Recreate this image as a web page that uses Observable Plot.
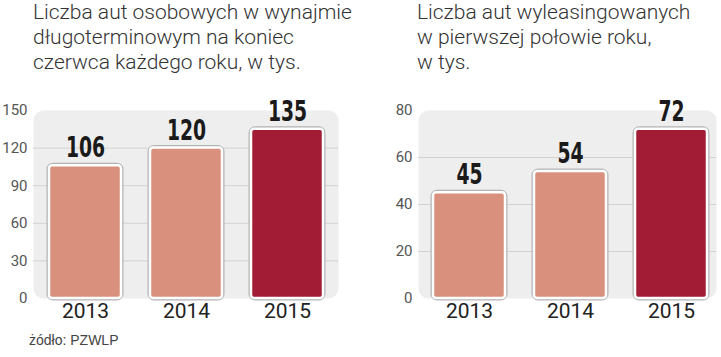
<!DOCTYPE html>
<html><head><meta charset="utf-8">
<script src="https://cdn.jsdelivr.net/npm/d3@7"></script>
<script src="https://cdn.jsdelivr.net/npm/@observablehq/plot@0.6"></script>
<style>
body{margin:0;background:#fff;}
#wrap{position:relative;width:721px;height:357px;overflow:hidden;}
.title{position:absolute;top:0;font-family:Roboto,sans-serif;font-weight:300;font-size:21px;line-height:25px;color:#333;margin:0;white-space:nowrap;}
.source{position:absolute;left:29px;top:332px;font-family:"Liberation Sans",Arial,sans-serif;font-size:14px;line-height:16px;color:#444;}
svg{position:absolute;top:0;}
</style>
</head><body>
<div id="wrap"></div>
<script>
const years = ["2013", "2014", "2015"];
const leftValues = [106, 120, 135];
const rightValues = [45, 54, 72];
const leftTicks = [0, 30, 60, 90, 120, 150];
const rightTicks = [0, 20, 40, 60, 80];
const leftGrid = [30, 60, 90, 120];
const rightGrid = [20, 40, 60];
const barColors = ["#d9917e", "#d9917e", "#a31c35"];
const leftTitle = ["Liczba aut osobowych w wynajmie", "długoterminowym na koniec", "czerwca każdego roku, w tys."];
const rightTitle = ["Liczba aut wyleasingowanych", "w pierwszej połowie roku,", "w tys."];
const sourceText = "żódło: PZWLP";

const wrap = document.getElementById("wrap");

function addTitle(lines, left) {
  const d = document.createElement("div");
  d.className = "title";
  d.style.left = left + "px";
  d.innerHTML = lines.map(l => l.replace(/&/g, "&amp;")).join("<br>");
  wrap.appendChild(d);
}

function panel({values, ticks, grid, max, width, marginLeft, marginRight, pi, po, align}) {
  const data = years.map((year, i) => ({year, value: values[i], color: barColors[i]}));
  const svg = Plot.plot({
    width, height: 330,
    marginTop: 110, marginBottom: 32, marginLeft, marginRight,
    style: {fontFamily: "Roboto, sans-serif", background: "transparent", overflow: "visible"},
    x: {domain: years, paddingInner: pi, paddingOuter: po, align, label: null},
    y: {domain: [0, max], label: null},
    color: {type: "identity"},
    marks: [
      Plot.frame({fill: "#eeeeee", stroke: "none", rx: 10}),
      Plot.gridY({ticks: grid, stroke: "#d2d2d2", strokeOpacity: 1}),
      Plot.barY(data, {x: "year", y: "value", fill: "color", stroke: "#b3b3b3", strokeWidth: 5, rx: 4}),
      Plot.barY(data, {x: "year", y: "value", fill: "color", stroke: "#ffffff", strokeWidth: 2.5, rx: 3}),
      Plot.text(data, {x: "year", y: "value", text: d => String(d.value), dy: -8.5, lineAnchor: "bottom",
        fontSize: 29, fontWeight: "bold", fontFamily: "'DejaVu Sans Condensed','DejaVu Sans',sans-serif", fill: "#1a1a1a"}),
      Plot.axisY({ticks, tickSize: 0, tickPadding: 6, fontSize: 15, fill: "#555", label: null}),
      Plot.axisX({tickSize: 0, tickPadding: 5, fontSize: 21, fill: "#222", label: null})
    ]
  });
  // narrow the bold value labels horizontally (condensed display face)
  d3.select(svg).selectAll('g[aria-label="text"] text').each(function () {
    const t = this.getAttribute("transform") || "";
    this.setAttribute("transform", t + " scale(0.72,1)");
  });
  return svg;
}

addTitle(leftTitle, 33);
addTitle(rightTitle, 417);

const left = panel({values: leftValues, ticks: leftTicks, grid: leftGrid, max: 150, width: 360,
  marginLeft: 33, marginRight: 22, pi: 0.29, po: 0.1475, align: 0.5});
left.style.left = "0px";
wrap.appendChild(left);

const right = panel({values: rightValues, ticks: rightTicks, grid: rightGrid, max: 80, width: 361,
  marginLeft: 58, marginRight: 5, pi: 0.284, po: 0.103, align: 0.62});
right.style.left = "360px";
wrap.appendChild(right);

const s = document.createElement("div");
s.className = "source";
s.textContent = sourceText;
wrap.appendChild(s);
</script>
</body></html>
